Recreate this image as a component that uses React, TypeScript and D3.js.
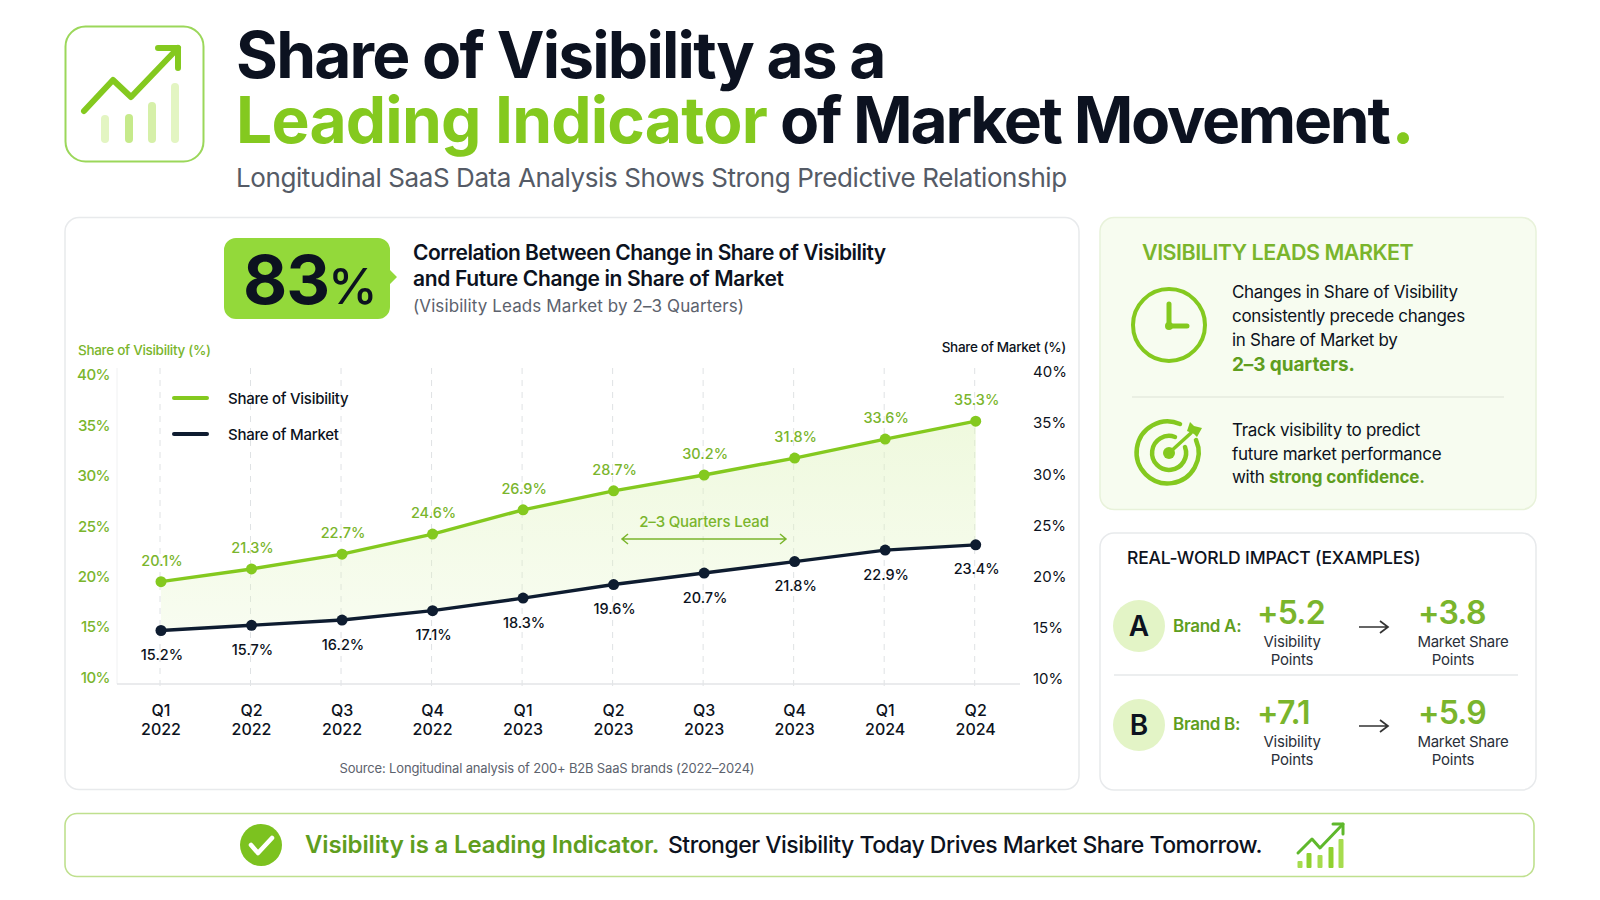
import React from 'react';
import * as d3 from 'd3';

const quarters = ['Q1', 'Q2', 'Q3', 'Q4', 'Q1', 'Q2', 'Q3', 'Q4', 'Q1', 'Q2'];
const years = ['2022', '2022', '2022', '2022', '2023', '2023', '2023', '2023', '2024', '2024'];
const visibility = [20.1, 21.3, 22.7, 24.6, 26.9, 28.7, 30.2, 31.8, 33.6, 35.3];
const market = [15.2, 15.7, 16.2, 17.1, 18.3, 19.6, 20.7, 21.8, 22.9, 23.4];
const axisTicks = [10, 15, 20, 25, 30, 35, 40];
const brands = ['A', 'B'];
const visGain = ['+5.2', '+7.1'];
const marketGain = ['+3.8', '+5.9'];

const GREEN = '#84c91f';
const GREEN_TEXT = '#7ab52c';
const GREEN_DARK = '#5f9e1e';
const INK = '#0c1220';
const LINE_INK = '#0e1c30';
const FONT = 'Inter, sans-serif';

const x = d3.scalePoint<number>().domain(d3.range(quarters.length)).range([161, 975.7]);
// tick labels and plotted lines do not quite agree in the picture, so they get their own scales
const yLeft = d3.scaleLinear().domain([10, 40]).range([677.5, 375]);
const yRight = d3.scaleLinear().domain([10, 40]).range([678.5, 372]);
const yVis = d3.scaleLinear().domain([10, 40]).range([688.3, 371.5]);
const yMkt = d3.scaleLinear().domain([10, 40]).range([684.8, 371.5]);

const visLine = d3.line<number>().x((_, i) => x(i)!).y((d) => yVis(d));
const mktLine = d3.line<number>().x((_, i) => x(i)!).y((d) => yMkt(d));
const gap = d3
  .area<number>()
  .x((_, i) => x(i)!)
  .y0((_, i) => yMkt(market[i]))
  .y1((d) => yVis(d));

const T = (p: any) => <text fontFamily={FONT} {...p} />;

const Panel = (p: { x: number; y: number; w: number; h: number; fill?: string; stroke?: string }) => (
  <rect x={p.x} y={p.y} width={p.w} height={p.h} rx={14} fill={p.fill || '#fff'} stroke={p.stroke || '#e8eaec'} strokeWidth={1.5} />
);

const Logo = () => (
  <g>
    <rect x={65.5} y={26.5} width={138} height={135} rx={20} fill="#fff" stroke="#9bd75a" strokeWidth={2} />
    {[
      [105, 115, '#e3f5c2'],
      [129, 114, '#c6ea8b'],
      [152, 102, '#d6f0a9'],
      [175, 83, '#e3f5c2'],
    ].map(([bx, top, c]: any, i) => (
      <rect key={i} x={bx - 4} y={top} width={8} height={143 - top} rx={4} fill={c} />
    ))}
    <path d="M84 111 L113 80 L131 97 L178 48" fill="none" stroke={GREEN} strokeWidth={6} strokeLinecap="round" strokeLinejoin="round" />
    <path d="M158 48 H178 V68" fill="none" stroke={GREEN} strokeWidth={6} strokeLinecap="round" strokeLinejoin="round" />
  </g>
);

const Clock = () => (
  <g fill="none" stroke={GREEN} strokeLinecap="round">
    <circle cx={1169} cy={325} r={36} strokeWidth={4} />
    <path d="M1169 304 V326 H1187" strokeWidth={5} />
    <circle cx={1169} cy={326} r={4} fill={GREEN} stroke="none" />
  </g>
);

const Target = () => (
  <g fill="none" stroke={GREEN} strokeLinecap="round">
    <path d="M1196 440 A31 31 0 1 1 1180 424" strokeWidth={4.5} />
    <path d="M1185 447 A17 17 0 1 1 1175 437" strokeWidth={4.5} />
    <circle cx={1169} cy={453} r={6} fill={GREEN} stroke="none" />
    <path d="M1169 453 L1191 433" strokeWidth={3.5} />
    <path d="M1187 431 L1190 422 L1194 426 L1202 428 L1197 437 L1194 434 Z" fill={GREEN} stroke="none" />
  </g>
);

const BannerIcon = () => (
  <g>
    {[
      [1300, 861],
      [1309, 853],
      [1320, 855],
      [1331, 847],
      [1341, 839],
    ].map(([bx, top], i) => (
      <rect key={i} x={bx - 2.5} y={top} width={5} height={868 - top} rx={1} fill={i % 2 ? '#8fd12f' : '#a6dc4e'} />
    ))}
    <path d="M1298 853 L1312 839 L1320 848 L1343 824" fill="none" stroke="#5fb82c" strokeWidth={3} strokeLinecap="round" strokeLinejoin="round" />
    <path d="M1333 824 H1343 V834" fill="none" stroke="#5fb82c" strokeWidth={3} strokeLinecap="round" strokeLinejoin="round" />
  </g>
);

const Arrow = ({ y }: { y: number }) => (
  <path d={`M1359 ${y} H1388 M1380 ${y - 6} L1388 ${y} L1380 ${y + 6}`} fill="none" stroke="#333" strokeWidth={1.7} />
);

const App = () => (
  <svg width={1600} height={900} style={{ position: 'absolute', left: 0, top: 0, background: '#fff' }}>
    <defs>
      <linearGradient id="gapFill" x1="0" x2="0" y1="0" y2="1">
        <stop offset="0" stopColor="#dff3bd" stopOpacity={0.5} />
        <stop offset="1" stopColor="#dff3bd" stopOpacity={0.22} />
      </linearGradient>
    </defs>

    {/* header */}
    <Logo />
    <T x={236} y={78} fontSize={64} fontWeight={700} letterSpacing={-1.77} fill={INK}>Share of Visibility as a</T>
    <T x={236} y={143} fontSize={64} fontWeight={700} fill={INK}>
      <tspan fill={GREEN} letterSpacing={-0.78}>Leading Indicator</tspan>
      <tspan letterSpacing={-2.24}> of Market Movement</tspan>
      <tspan fill={GREEN} dx={3} fontWeight={800}>.</tspan>
    </T>
    <T x={236} y={187} fontSize={26} fill="#555b66" letterSpacing={-0.41}>Longitudinal SaaS Data Analysis Shows Strong Predictive Relationship</T>

    {/* chart panel */}
    <Panel x={65} y={217.5} w={1014} h={572} />
    <path d="M236 238 H378 a12 12 0 0 1 12 12 V270 L397 277 L390 284 V307 a12 12 0 0 1 -12 12 H236 a12 12 0 0 1 -12 -12 V250 a12 12 0 0 1 12 -12 Z" fill="#93d93a" />
    <T x={243} y={304} fontSize={68} fontWeight={700} letterSpacing={-1} fill={INK}>83</T>
    <T x={328} y={304} fontSize={50} fontWeight={500} fill={INK}>%</T>
    <T x={413} y={260} fontSize={21} fontWeight={600} fill={INK} letterSpacing={-0.53}>Correlation Between Change in Share of Visibility</T>
    <T x={413} y={286} fontSize={21} fontWeight={600} fill={INK} letterSpacing={-0.35}>and Future Change in Share of Market</T>
    <T x={413} y={312} fontSize={17} letterSpacing={0.1} fill="#5c626d">(Visibility Leads Market by 2–3 Quarters)</T>

    <T x={78} y={355} fontSize={13.5} fontWeight={500} letterSpacing={-0.3} fill={GREEN_TEXT}>Share of Visibility (%)</T>
    <T x={1066} y={352} fontSize={13.5} fontWeight={500} letterSpacing={-0.3} fill={INK} textAnchor="end">Share of Market (%)</T>

    <line x1={117} x2={117} y1={368} y2={684} stroke="#f0f1f2" />
    {quarters.map((_, i) => (
      <line key={i} x1={x(i)! - 1} x2={x(i)! - 1} y1={368} y2={692} stroke="#dfe2e4" strokeDasharray="6 6" />
    ))}
    <line x1={117} x2={1020} y1={684} y2={684} stroke="#e3e5e7" strokeWidth={1.3} />

    {axisTicks.map((t) => (
      <g key={t} fontSize={15} fontFamily={FONT}>
        <text x={110} y={yLeft(t)} dy="0.36em" textAnchor="end" letterSpacing={-0.5} fill={GREEN_TEXT} fontWeight={500}>{t}%</text>
        <text x={1033} y={yRight(t)} dy="0.36em" fill={INK}>{t}%</text>
      </g>
    ))}

    <path d={gap(visibility)!} fill="url(#gapFill)" />
    <path d={visLine(visibility)!} fill="none" stroke={GREEN} strokeWidth={3.4} />
    <path d={mktLine(market)!} fill="none" stroke={LINE_INK} strokeWidth={3.4} />
    {visibility.map((v, i) => (
      <g key={i}>
        <circle cx={x(i)} cy={yVis(v)} r={5.5} fill={GREEN} />
        <T x={x(i)! + 1} y={yVis(v) - 16} textAnchor="middle" fontSize={14.5} fontWeight={500} fill={GREEN_TEXT}>{v.toFixed(1)}%</T>
      </g>
    ))}
    {market.map((v, i) => (
      <g key={i}>
        <circle cx={x(i)} cy={yMkt(v)} r={5.5} fill={LINE_INK} />
        <T x={x(i)! + 1} y={yMkt(v) + 29.5} textAnchor="middle" fontSize={14.5} fontWeight={500} fill={INK}>{v.toFixed(1)}%</T>
      </g>
    ))}

    {/* lead marker */}
    <T x={704} y={527} textAnchor="middle" fontSize={15} fontWeight={500} letterSpacing={-0.15} fill={GREEN_TEXT}>2–3 Quarters Lead</T>
    <path d="M622 539 H786 M628 534 L622 539 L628 544 M780 534 L786 539 L780 544" fill="none" stroke={GREEN_TEXT} strokeWidth={1.5} />

    {/* legend */}
    <line x1={174} x2={207} y1={398} y2={398} stroke={GREEN} strokeWidth={4} strokeLinecap="round" />
    <T x={228} y={404} fontSize={15} fontWeight={500} letterSpacing={-0.26} fill={INK}>Share of Visibility</T>
    <line x1={174} x2={207} y1={434} y2={434} stroke={LINE_INK} strokeWidth={4} strokeLinecap="round" />
    <T x={228} y={440} fontSize={15} fontWeight={500} letterSpacing={-0.26} fill={INK}>Share of Market</T>

    {quarters.map((q, i) => (
      <g key={i}>
        <T x={x(i)!} y={716} textAnchor="middle" fontSize={16} fontWeight={500} fill={INK}>{q}</T>
        <T x={x(i)!} y={735} textAnchor="middle" fontSize={16} fontWeight={500} fill={INK}>{years[i]}</T>
      </g>
    ))}
    <T x={547} y={773} textAnchor="middle" fontSize={13} letterSpacing={-0.17} fill="#5c626d">Source: Longitudinal analysis of 200+ B2B SaaS brands (2022–2024)</T>

    {/* right top */}
    <Panel x={1100} y={217.5} w={436} h={292} fill="#f7fcf0" stroke="#e8f2da" />
    <T x={1142} y={260} fontSize={21.5} fontWeight={600} letterSpacing={-0.49} fill={GREEN_TEXT}>VISIBILITY LEADS MARKET</T>
    <Clock />
    {['Changes in Share of Visibility', 'consistently precede changes', 'in Share of Market by'].map((s, i) => (
      <T key={s} x={1232} y={298 + i * 24} fontSize={17} letterSpacing={-0.3} fill={INK}>{s}</T>
    ))}
    <T x={1232} y={371} fontSize={19} fontWeight={700} letterSpacing={-0.1} fill={GREEN_DARK}>2–3 quarters.</T>
    <line x1={1132} x2={1504} y1={397} y2={397} stroke="#e6ebdf" strokeWidth={1.3} />
    <Target />
    <T x={1232} y={436} fontSize={17} letterSpacing={-0.3} fill={INK}>Track visibility to predict</T>
    <T x={1232} y={460} fontSize={17} letterSpacing={-0.3} fill={INK}>future market performance</T>
    <T x={1232} y={483} fontSize={17} letterSpacing={-0.3} fill={INK}>with <tspan fontWeight={700} letterSpacing={-0.1} fill={GREEN_DARK}>strong confidence.</tspan></T>

    {/* right bottom */}
    <Panel x={1100} y={533} w={436} h={257} />
    <T x={1127} y={564} fontSize={17.5} fontWeight={500} letterSpacing={-0.18} fill={INK}>REAL-WORLD IMPACT (EXAMPLES)</T>
    <line x1={1114} x2={1518} y1={675} y2={675} stroke="#e6e8ea" strokeWidth={1.5} />
    {brands.map((b, i) => {
      const dy = i * 99;
      const dt = i * 100;
      return (
        <g key={b}>
          <circle cx={1139} cy={626 + dy} r={26} fill="#e3f4c6" />
          <T x={1139} y={636 + dy} textAnchor="middle" fontSize={28} fontWeight={600} fill={INK}>{b}</T>
          <T x={1173} y={632 + dy - i} fontSize={17} fontWeight={600} letterSpacing={-0.3} fill={GREEN_DARK}>Brand {b}:</T>
          <T x={1257} y={624 + dt} fontSize={32} fontWeight={600} letterSpacing={-0.8} fill={GREEN_TEXT}>{visGain[i]}</T>
          <T x={1292} y={647 + dt} textAnchor="middle" fontSize={15} letterSpacing={-0.2} fill="#2a2f3a">Visibility</T>
          <T x={1292} y={665 + dt} textAnchor="middle" fontSize={15} letterSpacing={-0.2} fill="#2a2f3a">Points</T>
          <Arrow y={627 + dt - i} />
          <T x={1418} y={624 + dt} fontSize={32} fontWeight={600} letterSpacing={-0.8} fill={GREEN_TEXT}>{marketGain[i]}</T>
          <T x={1463} y={647 + dt} textAnchor="middle" fontSize={15} letterSpacing={-0.3} fill="#2a2f3a">Market Share</T>
          <T x={1453} y={665 + dt} textAnchor="middle" fontSize={15} letterSpacing={-0.2} fill="#2a2f3a">Points</T>
        </g>
      );
    })}

    {/* bottom banner */}
    <rect x={65} y={813.5} width={1469} height={63} rx={12} fill="#fff" stroke="#bfe08e" strokeWidth={1.6} />
    <circle cx={261} cy={845} r={21} fill="#7cc21f" />
    <path d="M251 845 L258 853 L272 838" fill="none" stroke="#fff" strokeWidth={4.5} strokeLinecap="round" strokeLinejoin="round" />
    <T x={305} y={853} fontSize={24} fontWeight={600} fill={GREEN_DARK} letterSpacing={-0.15}>Visibility is a Leading Indicator.</T>
    <T x={668} y={853} fontSize={23} fontWeight={500} fill={INK} letterSpacing={-0.49}>Stronger Visibility Today Drives Market Share Tomorrow.</T>
    <BannerIcon />
  </svg>
);

export default App;
